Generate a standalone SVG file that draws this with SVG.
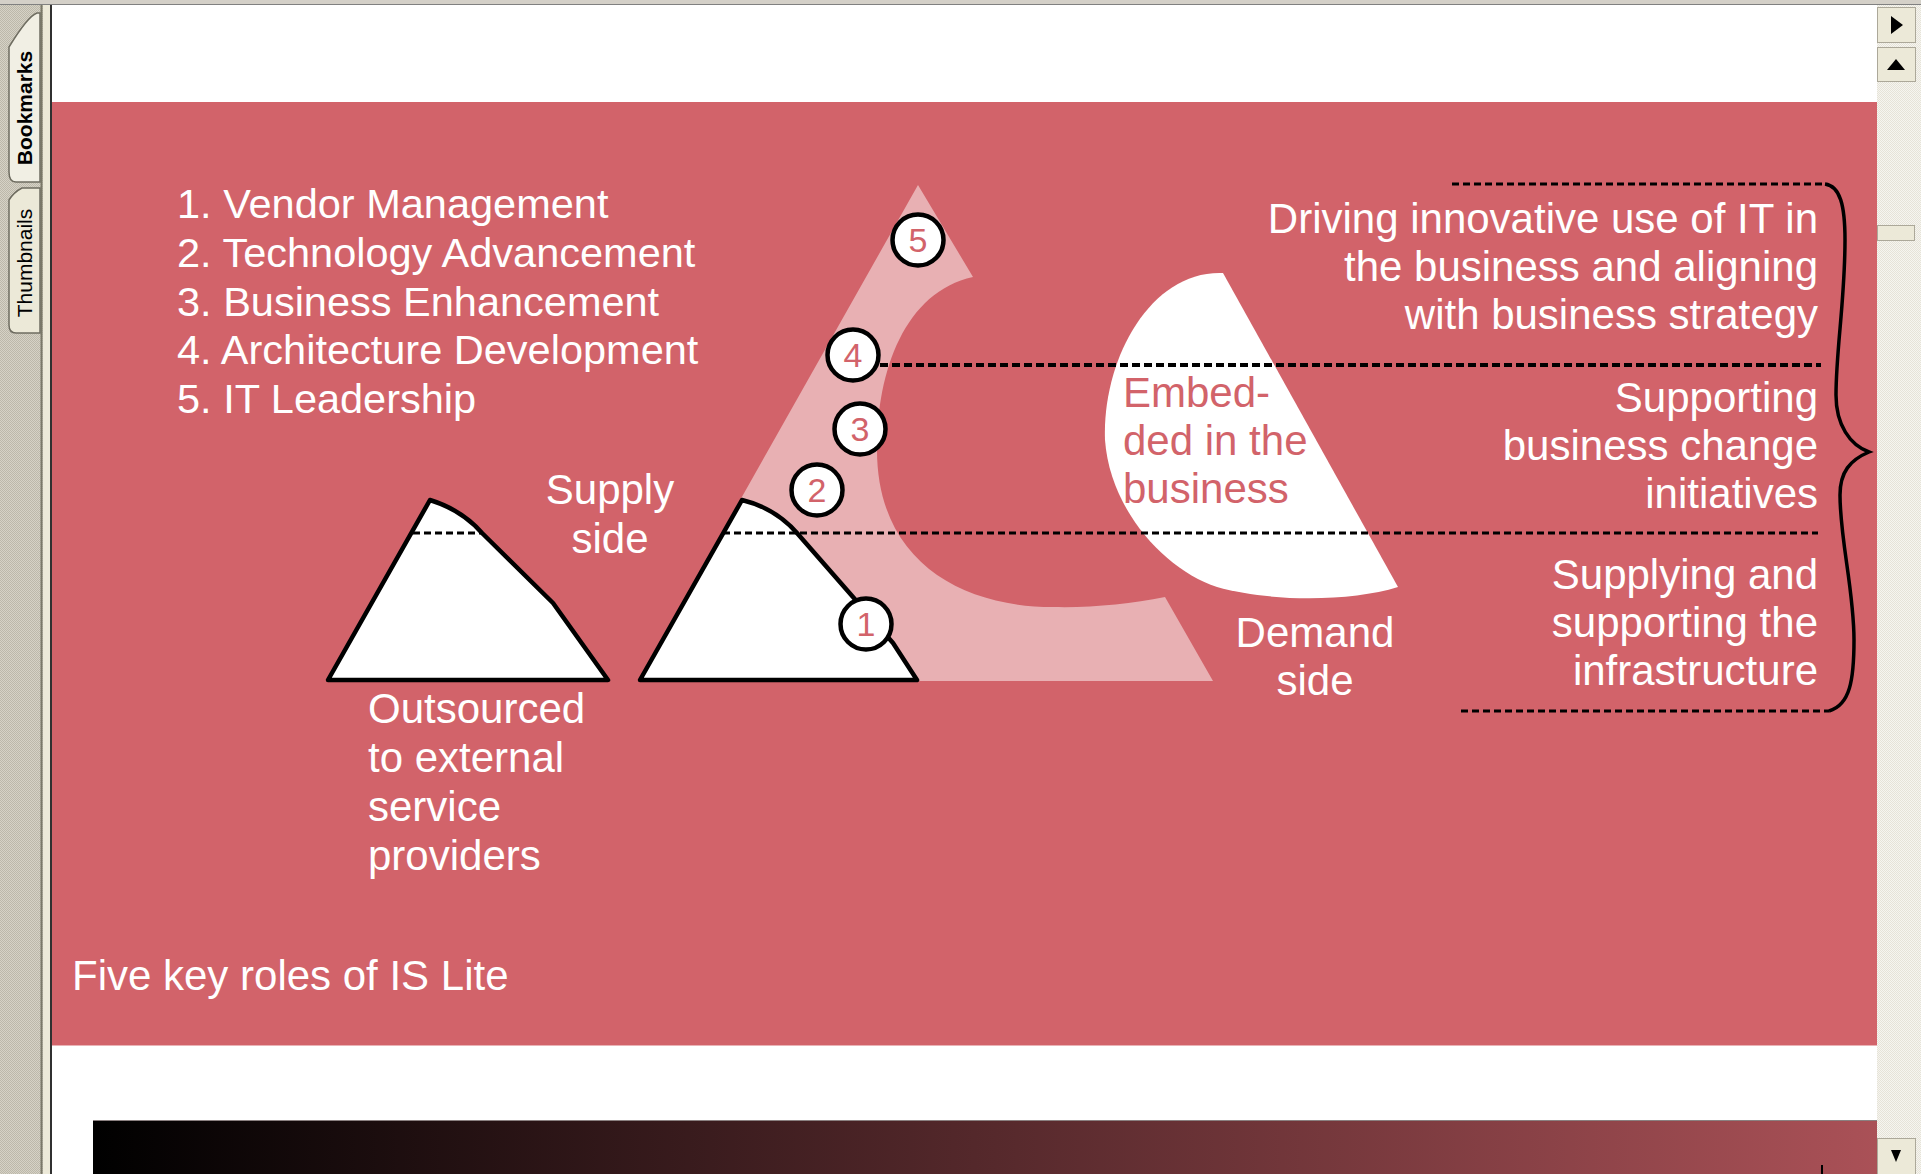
<svg xmlns="http://www.w3.org/2000/svg" width="1921" height="1174" viewBox="0 0 1921 1174">
<defs>
<style>
.w{font-family:"Liberation Sans",Arial,sans-serif;font-size:42px;fill:#ffffff}
.l{font-family:"Liberation Sans",Arial,sans-serif;font-size:41.5px;fill:#ffffff}
.p{font-family:"Liberation Sans",Arial,sans-serif;font-size:42px;fill:#d2636a}
.num{font-family:"Liberation Sans",Arial,sans-serif;font-size:34px;fill:#d2636a;text-anchor:middle}
.r{text-anchor:end}
.m{text-anchor:middle}
.circ{fill:#ffffff;stroke:#000000;stroke-width:4.5}
.shape{fill:#ffffff;stroke:#000000;stroke-width:4.5;stroke-linejoin:round}
.dash1{stroke:#000000;stroke-width:4;stroke-dasharray:8 4;fill:none}
.dash2{stroke:#000000;stroke-width:3;stroke-dasharray:7 4;fill:none}
.tab{font-family:"Liberation Sans",Arial,sans-serif;font-size:21px;fill:#000000;text-anchor:middle}
.btn{fill:#ece9d8;stroke:#aca899;stroke-width:1}
</style>
<pattern id="dither" width="2" height="2" patternUnits="userSpaceOnUse">
<rect width="2" height="2" fill="#d6d2c6"/>
<rect width="1" height="1" fill="#bcb8aa"/>
<rect x="1" y="1" width="1" height="1" fill="#bcb8aa"/>
</pattern>
<pattern id="track" width="2" height="2" patternUnits="userSpaceOnUse">
<rect width="2" height="2" fill="#f6f5f0"/>
<rect width="1" height="1" fill="#e6e3d8"/>
<rect x="1" y="1" width="1" height="1" fill="#e6e3d8"/>
</pattern>
<linearGradient id="grad" x1="0" y1="0" x2="1" y2="0">
<stop offset="0" stop-color="#000000"/>
<stop offset="1" stop-color="#aa5157"/>
</linearGradient>
</defs>

<!-- window chrome -->
<g id="chrome">
<rect x="0" y="0" width="1921" height="1174" fill="#ffffff"/>
<rect x="0" y="0" width="1921" height="5" fill="#d4d0c8"/>
<line x1="0" y1="4.5" x2="1921" y2="4.5" stroke="#808080" stroke-width="1"/>
<rect x="0" y="5" width="43" height="1169" fill="url(#dither)"/>
<line x1="41.5" y1="5" x2="41.5" y2="1174" stroke="#7a7868" stroke-width="2"/>
<rect x="43" y="5" width="7" height="1169" fill="#ece9d8"/>
<line x1="51" y1="5" x2="51" y2="1174" stroke="#303030" stroke-width="2"/>
<path d="M40,13 L37,13 Q28,16 9,47 L9,172 Q9,182 16,182 L40,182 Z" fill="#f1efe4" stroke="#6e6c60" stroke-width="1.5"/>
<text class="tab" transform="translate(32,108) rotate(-90)" font-weight="bold">Bookmarks</text>
<path d="M40,188 L22,188 Q14,192 9,200 L9,325 Q9,333 16,333 L40,333 Z" fill="#ece9d8" stroke="#6e6c60" stroke-width="1.5"/>
<text class="tab" transform="translate(32,263) rotate(-90)">Thumbnails</text>
<rect x="1877" y="5" width="44" height="1169" fill="url(#track)"/>
<rect x="1877.5" y="7.5" width="38" height="35" class="btn"/>
<path d="M1891,16 L1903,25 L1891,34 Z" fill="#000000"/>
<rect x="1877.5" y="47.5" width="38" height="34" class="btn"/>
<path d="M1887,70 L1896,59 L1905,70 Z" fill="#000000"/>
<rect x="1877.5" y="225.5" width="37" height="15" class="btn"/>
<rect x="1877.5" y="1138.5" width="38" height="36" class="btn"/>
<path d="M1891,1150 L1901,1150 L1896,1162 Z" fill="#000000"/>
<rect x="52" y="102" width="1825" height="943" fill="#d2636a"/>
<line x1="52" y1="1045.5" x2="1877" y2="1045.5" stroke="#eab3b6" stroke-width="1"/>
<rect x="93" y="1120" width="1784" height="54" fill="url(#grad)"/>
<line x1="93" y1="1120.5" x2="1877" y2="1120.5" stroke="#8a8080" stroke-width="1"/>
<rect x="1821" y="1165" width="2" height="9" fill="#000000"/>
</g>

<!-- big light pink wedge -->
<g id="wedge">
<path d="M918,185 L973,277 C905,292 877,370 877,450 C877,560 960,607 1053,607 C1090,608 1130,604 1165,597 L1213,681 L638,681 Z" fill="#e8b0b3"/>
</g>

<!-- embedded white shape -->
<g id="embedded">
<path d="M1223,273 L1398,587 C1350,602 1270,602 1217,587 C1165,570 1110,510 1105,440 C1102,360 1150,270 1223,273 Z" fill="#ffffff"/>
<text class="p" x="1123" y="407">Embed-</text>
<text class="p" x="1123" y="455">ded in the</text>
<text class="p" x="1123" y="503">business</text>
</g>

<!-- left outsourced triangle -->
<g id="outsourced">
<path class="shape" d="M328,680 L430,500 Q462,510 482,533 L553,603 L608,680 Z"/>
<line class="dash2" x1="413" y1="533" x2="482" y2="533"/>
<text class="w" x="368" y="723">Outsourced</text>
<text class="w" x="368" y="772">to external</text>
<text class="w" x="368" y="821">service</text>
<text class="w" x="368" y="870">providers</text>
</g>

<!-- supply side triangle -->
<g id="supply">
<path class="shape" d="M640,680 L742,500 Q775,508 797,533 L853,597 L893,643 L917,680 Z"/>
<text class="w m" x="610" y="504">Supply</text>
<text class="w m" x="610" y="553">side</text>
</g>

<!-- connectors: dashed levels and brace -->
<g id="connectors">
<line class="dash1" x1="880" y1="365" x2="1821" y2="365"/>
<line class="dash2" x1="723" y1="533" x2="1818" y2="533"/>
<line class="dash2" x1="1452" y1="184" x2="1825" y2="184"/>
<line class="dash2" x1="1461" y1="711" x2="1829" y2="711"/>
<path d="M1825,184 C1840,186 1845,205 1845,240 C1845,300 1836,350 1836,395 C1836,425 1850,445 1869,452 C1850,460 1840,472 1840,495 C1840,540 1854,590 1854,640 C1854,680 1850,705 1829,711" fill="none" stroke="#000000" stroke-width="3.5"/>
</g>

<!-- numbered role circles -->
<g id="role1"><circle class="circ" cx="866" cy="624" r="25.5"/><text class="num" x="866" y="636">1</text></g>
<g id="role2"><circle class="circ" cx="817" cy="490" r="25.5"/><text class="num" x="817" y="502">2</text></g>
<g id="role3"><circle class="circ" cx="860" cy="429" r="25.5"/><text class="num" x="860" y="441">3</text></g>
<g id="role4"><circle class="circ" cx="853" cy="355" r="25.5"/><text class="num" x="853" y="367">4</text></g>
<g id="role5"><circle class="circ" cx="918" cy="240" r="25.5"/><text class="num" x="918" y="252">5</text></g>

<!-- list -->
<g id="legend">
<text class="l" x="177" y="218">1. Vendor Management</text>
<text class="l" x="177" y="267">2. Technology Advancement</text>
<text class="l" x="177" y="316">3. Business Enhancement</text>
<text class="l" x="177" y="364">4. Architecture Development</text>
<text class="l" x="177" y="413">5. IT Leadership</text>
</g>

<g id="demand">
<text class="w m" x="1315" y="647">Demand</text>
<text class="w m" x="1315" y="695">side</text>
</g>

<g id="level-top">
<text class="w r" x="1818" y="233">Driving innovative use of IT in</text>
<text class="w r" x="1818" y="281">the business and aligning</text>
<text class="w r" x="1818" y="329">with business strategy</text>
</g>
<g id="level-mid">
<text class="w r" x="1818" y="412">Supporting</text>
<text class="w r" x="1818" y="460">business change</text>
<text class="w r" x="1818" y="508">initiatives</text>
</g>
<g id="level-bottom">
<text class="w r" x="1818" y="589">Supplying and</text>
<text class="w r" x="1818" y="637">supporting the</text>
<text class="w r" x="1818" y="685">infrastructure</text>
</g>

<g id="caption">
<text class="w" x="72" y="990">Five key roles of IS Lite</text>
</g>
</svg>
